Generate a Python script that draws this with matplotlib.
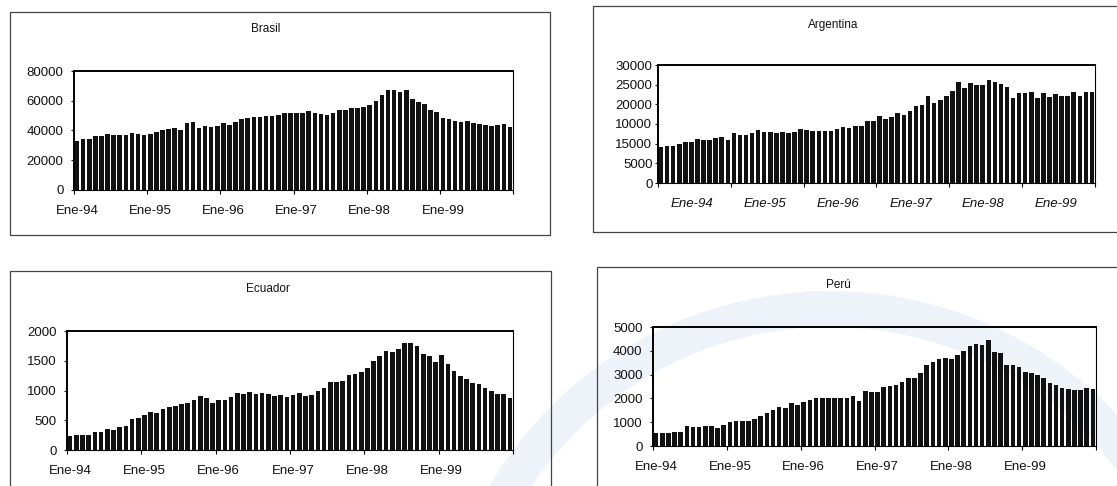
import numpy as np
import matplotlib
matplotlib.use("Agg")
import matplotlib.pyplot as plt
from matplotlib.patches import Rectangle, Wedge
from matplotlib.transforms import IdentityTransform

plt.rcParams['font.family'] = ['Liberation Sans', 'DejaVu Sans']

# monthly values, Jan-94 .. Dec-99
years = ['Ene-94', 'Ene-95', 'Ene-96', 'Ene-97', 'Ene-98', 'Ene-99']

brasil = [33000, 34000, 34000, 36000, 36000, 37500, 37000, 37000, 37000, 38500, 37500, 37000,
          37500, 39000, 40000, 41000, 41500, 40500, 45000, 46000, 42000, 43000, 42500, 43000,
          45000, 44000, 46000, 47500, 48500, 49000, 49000, 50000, 50000, 50500, 51500, 52000,
          52000, 52000, 53000, 52000, 51000, 50500, 52000, 53500, 54000, 55000, 55000, 56000,
          57000, 60000, 64000, 67500, 67000, 66000, 67000, 61500, 59000, 57500, 54000, 52500,
          48500, 48000, 46500, 46000, 46500, 45000, 44500, 44000, 43000, 44000, 44500, 42500]

# argentina is given in axis position units (the printed scale swaps 10000 / 15000)
argentina = [9100, 9500, 9500, 10000, 10400, 10400, 11200, 10900, 10900, 11400, 11600, 10900,
             12600, 12200, 12200, 12700, 13400, 12900, 12900, 12700, 12900, 12700, 12900, 13800,
             13500, 13100, 13100, 13100, 13300, 13700, 14200, 13900, 14600, 14600, 15800, 15800,
             17100, 16300, 16900, 17800, 17200, 18300, 19600, 19800, 22000, 20300, 21100, 22000,
             23400, 25600, 24100, 25500, 24900, 24800, 26200, 25800, 25100, 24300, 21700, 23000,
             22800, 23200, 21500, 23000, 21900, 22500, 22000, 22000, 23200, 22200, 23200, 23200]
arg_ylabels = ['0', '5000', '15000', '10000', '20000', '25000', '30000']

ecuador = [234, 255, 260, 255, 310, 305, 348, 340, 390, 397, 516, 533,
           587, 636, 614, 690, 723, 740, 777, 783, 832, 908, 870, 788,
           848, 837, 886, 962, 935, 967, 940, 962, 940, 908, 924, 886,
           924, 962, 908, 924, 990, 1049, 1147, 1147, 1168, 1266, 1283, 1310,
           1386, 1500, 1582, 1658, 1652, 1690, 1804, 1799, 1755, 1609, 1587, 1484,
           1603, 1451, 1321, 1239, 1185, 1125, 1103, 1049, 984, 940, 935, 880]

peru = [526, 526, 526, 568, 568, 845, 803, 803, 845, 831, 776, 900,
        997, 1039, 1039, 1053, 1122, 1260, 1385, 1524, 1648, 1607, 1814, 1731,
        1842, 1953, 2008, 2036, 2036, 2036, 2022, 2022, 2091, 1870, 2299, 2271,
        2285, 2493, 2535, 2562, 2701, 2839, 2867, 3047, 3393, 3546, 3643, 3712,
        3657, 3809, 3989, 4197, 4294, 4238, 4474, 3947, 3892, 3393, 3393, 3324,
        3089, 3061, 2978, 2853, 2645, 2562, 2452, 2396, 2368, 2368, 2424, 2396]

W, H = 1117, 486
fig = plt.figure(figsize=(W / 100, H / 100), dpi=100)
fig.patch.set_facecolor('white')


def frac(x0, y0, x1, y1):
    return [x0 / W, 1 - y1 / H, (x1 - x0) / W, (y1 - y0) / H]


# faint watermark seal of the scanned page (pixel coords, origin bottom-left), kept behind everything
fig.patches.append(Wedge((830, -200), 395, 15, 170, width=36, transform=IdentityTransform(),
                         facecolor='#eef3fa', edgecolor='none', zorder=-5))

panels = [
    ('Brasil', brasil, 80000, 20000, None, (74, 71, 513, 190), (10, 12, 550, 235), (266, 29), 0.5, False),
    ('Argentina', argentina, 30000, 5000, arg_ylabels, (658, 65, 1095, 183), (593, 6, 1130, 232), (833, 25), 5.6, True),
    ('Ecuador', ecuador, 2000, 500, None, (67, 331, 513, 450), (10, 271, 551, 500), (268, 289), 0.5, False),
    ('Perú', peru, 5000, 1000, None, (653, 327, 1096, 446), (597, 267, 1130, 500), (838, 285), 0.5, False),
]

for name, vals, ymax, ystep, ylabs, plot_px, box_px, title_px, lab_off, ital in panels:
    # outer frame of each chart
    bx0, by0, bx1, by1 = box_px
    fig.patches.append(Rectangle((bx0 / W, 1 - by1 / H), (bx1 - bx0) / W, (by1 - by0) / H,
                                 transform=fig.transFigure, fill=False,
                                 edgecolor='#444444', linewidth=0.9, zorder=1))
    fig.text(title_px[0] / W, 1 - title_px[1] / H, name, ha='center', va='center',
             fontsize=8.5, color='#111111')

    ax = fig.add_axes(frac(*plot_px))
    ax.set_zorder(3)
    ax.set_facecolor('none')
    x = np.arange(len(vals))
    ax.bar(x, vals, width=0.75, color='#111111', edgecolor='none', zorder=2)
    ax.set_xlim(-0.5, len(vals) - 0.5)
    ax.set_ylim(0, ymax)

    yt = np.arange(0, ymax + 1, ystep)
    ax.set_yticks(yt)
    if ylabs is None:
        ax.set_yticklabels([str(int(v)) for v in yt])
    else:
        ax.set_yticklabels(ylabs)
    pad = 1.5 if ital else 5
    ax.tick_params(axis='y', length=2.5, width=0.8, pad=pad, labelsize=9.5, colors='#111111')

    ax.set_xticks(np.arange(0, len(vals) + 1, 12) - 0.5)
    ax.set_xticklabels([])
    ax.set_xticks(np.arange(0, 72, 12) - 0.5 + lab_off, minor=True)
    ax.set_xticklabels(years, minor=True, fontsize=9.5, style='italic' if ital else 'normal')
    ax.tick_params(axis='x', which='major', length=3, width=0.8, direction='out')
    ax.tick_params(axis='x', which='minor', length=0, pad=11, colors='#111111')

    for side in ['top', 'left']:
        ax.spines[side].set_linewidth(1.4)
    ax.spines['right'].set_linewidth(0.8)
    ax.spines['bottom'].set_linewidth(0.8)

fig.savefig('out.png', dpi=100)
